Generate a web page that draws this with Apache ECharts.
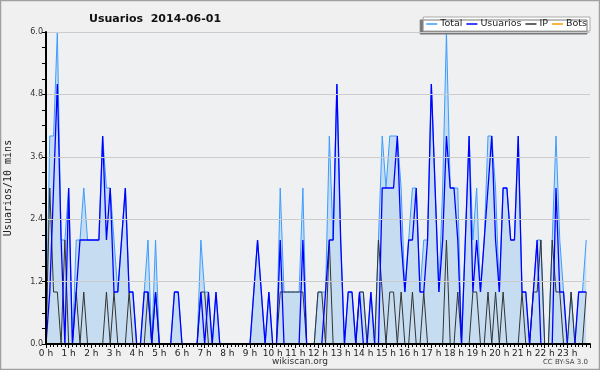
<!DOCTYPE html>
<html>
<head>
<meta charset="utf-8">
<script src="https://cdn.jsdelivr.net/npm/echarts@6/dist/echarts.min.js"></script>
<style>
  html, body { margin: 0; padding: 0; background: #f0f0f0; }
  #chart { width: 600px; height: 370px; }
</style>
</head>
<body>
<div id="chart"></div>
<script>
// one value every 10 minutes, 2014-06-01 00:00 -> 23:50
var total = [
  0,4,4,6,2,2,3,0,2,2,  3,2,2,2,2,4,3,3,2,1,
  2,3,1,1,0,0,1,2,0,2,  0,0,0,0,1,1,0,0,0,0,
  0,2,1,1,0,1,0,0,0,0,  0,0,0,0,0,1,2,1,0,1,
  0,0,3,1,1,1,1,1,3,0,  0,0,1,1,1,4,2,5,2,0,
  1,1,0,1,1,0,1,0,2,4,  3,4,4,4,3,1,2,3,3,1,
  2,2,5,3,1,3,6,3,3,3,  0,2,4,2,3,1,2,4,4,3,
  1,3,3,2,2,4,1,1,0,1,  2,2,0,0,2,4,2,1,0,1,
  0,1,1,2
];
var usuarios = [
  0,1,3,5,2,0,3,0,1,2,  2,2,2,2,2,4,2,3,1,1,
  2,3,1,1,0,0,1,1,0,1,  0,0,0,0,1,1,0,0,0,0,
  0,1,0,1,0,1,0,0,0,0,  0,0,0,0,0,1,2,1,0,1,
  0,0,2,0,0,0,0,0,2,0,  0,0,0,0,1,2,2,5,2,0,
  1,1,0,1,0,0,1,0,0,3,  3,3,3,4,2,1,2,2,3,1,
  1,2,5,3,1,2,4,3,3,2,  0,2,4,1,2,1,2,3,4,2,
  1,3,3,2,2,4,1,1,0,1,  2,0,0,0,0,3,1,1,0,0,
  0,1,1,1
];
var ip = [
  0,3,1,1,0,2,0,0,1,0,  1,0,0,0,0,0,1,0,1,0,
  0,0,1,0,0,0,0,1,0,1,  0,0,0,0,0,0,0,0,0,0,
  0,1,1,0,0,0,0,0,0,0,  0,0,0,0,0,0,0,0,0,0,
  0,0,1,1,1,1,1,1,1,0,  0,0,1,1,0,2,0,0,0,0,
  0,0,0,1,1,0,0,0,2,1,  0,1,1,0,1,0,0,1,0,0,
  1,0,0,0,0,0,2,0,0,1,  0,0,0,1,1,0,0,1,0,1,
  0,1,0,0,0,0,1,0,0,1,  1,2,0,0,2,1,1,0,0,1,
  0,0,0,1
];
var bots = [
  0,0,0,0,0,0,0,0,0,0,  0,0,0,0,0,0,0,0,0,0,
  0,0,0,0,0,0,0,0,0,0,  0,0,0,0,0,0,0,0,0,0,
  0,0,0,0,0,0,0,0,0,0,  0,0,0,0,0,0,0,0,0,0,
  0,0,0,0,0,0,0,0,0,0,  0,0,0,0,0,0,0,0,0,0,
  0,0,0,0,0,0,0,0,0,0,  0,0,0,0,0,0,0,0,0,0,
  0,0,0,0,0,0,0,0,0,0,  0,0,0,0,0,0,0,0,0,0,
  0,0,0,0,0,0,0,0,0,0,  0,0,0,0,0,0,0,0,0,0,
  0,0,0,0
];
var hourLabels = ['0 h','1 h','2 h','3 h','4 h','5 h','6 h','7 h','8 h','9 h','10 h','11 h',
                  '12 h','13 h','14 h','15 h','16 h','17 h','18 h','19 h','20 h','21 h','22 h','23 h'];

function pairs(arr) {
  return arr.map(function (v, i) { return [i, v]; });
}

var chart = echarts.init(document.getElementById('chart'));
var font = 'DejaVu Sans';

chart.setOption({
  backgroundColor: '#f0f0f0',
  animation: false,
  title: {
    text: 'Usuarios  2014-06-01',
    left: 84,
    top: 9,
    textStyle: { fontFamily: font, fontSize: 11, fontWeight: 'bold', color: '#111' }
  },
  legend: {
    data: ['Total', 'Usuarios', 'IP', 'Bots'],
    right: 10,
    top: 17,
    icon: 'rect',
    itemWidth: 11,
    itemHeight: 1.5,
    itemGap: 4,
    padding: [2, 3, 2, 3],
    backgroundColor: '#ffffff',
    borderColor: '#aaaaaa',
    borderWidth: 1,
    shadowColor: '#777777',
    shadowBlur: 0,
    shadowOffsetX: -3,
    shadowOffsetY: 3,
    textStyle: { fontFamily: font, fontSize: 9.5, color: '#222', padding: [0, 0, 0, -2] }
  },
  grid: {
    left: 46, right: 10, top: 32, bottom: 26,
    outerBoundsMode: 'none',
    containLabel: false,
    show: true, backgroundColor: '#eef0f2', borderWidth: 0
  },
  xAxis: {
    type: 'value',
    min: 0, max: 144, interval: 6,
    z: 10,
    axisLine: { lineStyle: { color: '#000', width: 2 } },
    axisTick: { show: true, length: 4, lineStyle: { color: '#000' } },
    minorTick: { show: true, splitNumber: 6, length: 3, lineStyle: { color: '#000' } },
    splitLine: { show: false },
    axisLabel: {
      fontFamily: font, fontSize: 9, color: '#222', margin: 5,
      formatter: function (v) { return v < 144 ? hourLabels[v / 6] : ''; }
    }
  },
  yAxis: {
    type: 'value',
    min: 0, max: 6, interval: 1.2,
    z: 10,
    name: 'Usuarios/10 mins',
    nameLocation: 'middle',
    nameRotate: 90,
    nameGap: 33,
    nameTextStyle: { fontFamily: 'DejaVu Sans Mono', fontSize: 10, color: '#222' },
    axisLine: { show: true, lineStyle: { color: '#000', width: 2 } },
    axisTick: { show: true, length: 4, lineStyle: { color: '#000' } },
    minorTick: { show: true, splitNumber: 4, length: 4, lineStyle: { color: '#000' } },
    splitLine: { lineStyle: { color: '#cccccc', width: 1 } },
    axisLabel: {
      fontFamily: font, fontSize: 8, color: '#333', margin: 3,
      formatter: function (v) { return v.toFixed(1); }
    }
  },
  series: [
    {
      name: 'Total', type: 'line', data: pairs(total), z: 2,
      showSymbol: false, symbol: 'none',
      lineStyle: { color: '#3c9cff', width: 1 },
      itemStyle: { color: '#3c9cff' },
      areaStyle: { color: '#c6ddf1', opacity: 1 }
    },
    {
      name: 'IP', type: 'line', data: pairs(ip), z: 3,
      showSymbol: false, symbol: 'none',
      lineStyle: { color: '#333333', width: 1 },
      itemStyle: { color: '#333333' }
    },
    {
      name: 'Usuarios', type: 'line', data: pairs(usuarios), z: 4,
      showSymbol: false, symbol: 'none',
      lineStyle: { color: '#0000ff', width: 1.3 },
      itemStyle: { color: '#0000ff' }
    },
    {
      name: 'Bots', type: 'line', data: pairs(bots), z: 1,
      showSymbol: false, symbol: 'none',
      lineStyle: { color: '#ff9900', width: 1 },
      itemStyle: { color: '#ff9900' }
    }
  ],
  graphic: [
    { type: 'rect', shape: { x: 0.5, y: 0.5, width: 599, height: 369 },
      style: { fill: 'none', stroke: '#a0a0a0', lineWidth: 1.5 }, silent: true },
    { type: 'text', left: 'center', top: 357,
      style: { text: 'wikiscan.org', fontFamily: font, fontSize: 9, fill: '#333' } },
    { type: 'text', right: 12, top: 359,
      style: { text: 'CC BY-SA 3.0', fontFamily: font, fontSize: 7, fill: '#444' } }
  ]
});
</script>
</body>
</html>
